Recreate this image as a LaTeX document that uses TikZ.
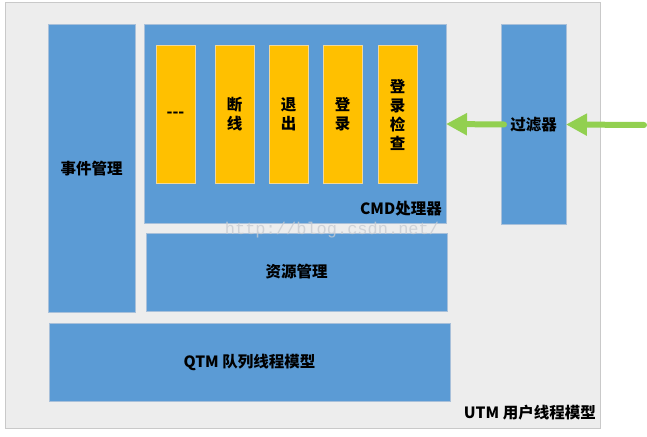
\documentclass[tikz,border=0pt]{standalone}
\usepackage{fontspec}
\newfontfamily\cjk{Noto Sans CJK SC}
\newfontfamily\wmfont{Liberation Mono}
\usetikzlibrary{arrows.meta}
\definecolor{bgray}{HTML}{EDEDED}
\definecolor{bgrayline}{HTML}{C9C9C9}
\definecolor{boxblue}{HTML}{5B9BD5}
\definecolor{blueline}{HTML}{A8C0DA}
\definecolor{boxorange}{HTML}{FFC000}
\definecolor{orangeline}{HTML}{F2D89A}
\definecolor{arrowgreen}{HTML}{92D050}
\definecolor{wmgray}{HTML}{C8CCD2}
\tikzset{
  base/.style={rectangle, anchor=north west, inner sep=0pt, outer sep=0pt,
    font=\cjk\bfseries\fontsize{15.5}{19}\selectfont, align=center, text=black},
  outerbox/.style={base, fill=bgray, draw=bgrayline, line width=1pt},
  bluebox/.style={base, fill=boxblue, draw=blueline, line width=1pt},
  orangebox/.style={base, fill=boxorange, draw=orangeline, line width=1pt,
    minimum width=39pt, minimum height=137pt},
  lbl/.style={inner sep=0pt, font=\cjk\bfseries\fontsize{15.5}{19}\selectfont, text=black},
  greenarrow/.style={draw=arrowgreen, line width=6pt, line cap=round,
    -{Triangle[width=21pt,length=21pt]}}
}
\begin{document}
\begin{tikzpicture}[x=1pt,y=-1pt]
\useasboundingbox[fill=white] (0,0) rectangle (647,436);
\node[outerbox, minimum width=595pt, minimum height=425pt] (utm) at (5,3) {};
\node[lbl, anchor=east] (utmlbl) at (596,413) {UTM 用户线程模型};
\node[bluebox, minimum width=87pt, minimum height=287pt] (evt) at (48,25) {事件管理};
\node[bluebox, minimum width=302pt, minimum height=198pt] (cmd) at (144,25) {};
\node[lbl, anchor=east] (cmdlbl) at (442,209) {CMD处理器};
\node[orangebox] (o1) at (156,46) {---};
\node[orangebox] (o2) at (215,46) {断\\线};
\node[orangebox] (o3) at (269,46) {退\\出};
\node[orangebox] (o4) at (323,46) {登\\录};
\node[orangebox] (o5) at (378,46) {登\\录\\检\\查};
\node[bluebox, minimum width=301pt, minimum height=78pt] (res) at (146,233) {资源管理};
\node[bluebox, minimum width=401pt, minimum height=78pt] (qtm) at (49,323) {QTM 队列线程模型};
\node[bluebox, minimum width=65pt, minimum height=199pt] (filt) at (501,25) {过滤器};
\node[inner sep=0pt, font=\wmfont\fontsize{17}{17}\selectfont, text=wmgray, opacity=0.8] (wm) at (332,230) {http://blog.csdn.net/};
\coordinate (src) at (644,125);
\draw[greenarrow] ([xshift=3pt]filt.west) -- (cmd.east);
\draw[greenarrow] (src) -- (filt.east);
\end{tikzpicture}
\end{document}
